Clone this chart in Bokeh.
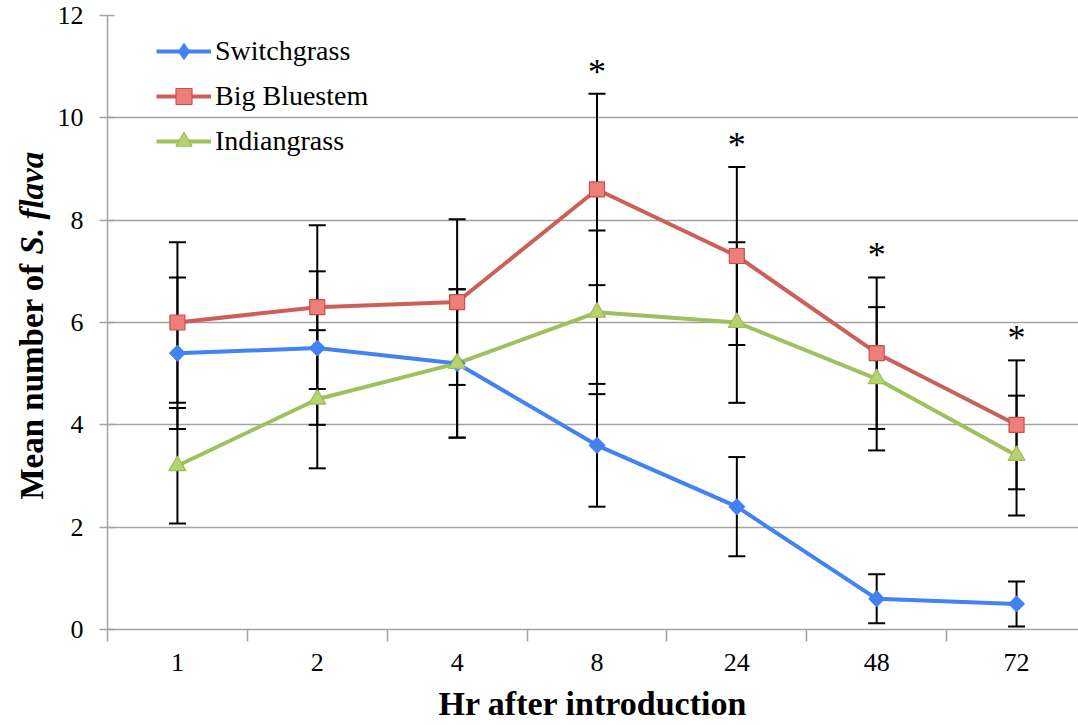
import math
import numpy as np
from bokeh.plotting import figure
from bokeh.layouts import row
from bokeh.models import FixedTicker, Legend, LegendItem, Range1d
from bokeh.core.properties import value
from bokeh.embed import file_html
from bokeh.resources import INLINE

# ---- data ----
hours = ["1", "2", "4", "8", "24", "48", "72"]
switch_mean = [5.4, 5.5, 5.2, 3.6, 2.4, 0.6, 0.5]
switch_err = [1.48, 1.5, 1.45, 1.2, 0.97, 0.48, 0.44]
bluestem_mean = [6.0, 6.3, 6.4, 8.6, 7.3, 5.4, 4.0]
bluestem_err = [1.57, 1.6, 1.62, 1.87, 1.74, 1.48, 1.26]
indian_mean = [3.2, 4.5, 5.2, 6.2, 6.0, 4.9, 3.4]
indian_err = [1.13, 1.35, 1.45, 1.6, 1.57, 1.4, 1.17]
significant = [False, False, False, True, True, True, True]
y_ticks = [0, 2, 4, 6, 8, 10, 12]

x = list(range(len(hours)))

FONT = "Liberation Serif"
GRID = "#A3A3A3"
H = 725
TOP, BOTTOM = 15, 96
TITLE_W = 54

y_range = Range1d(0, 12)

p = figure(width=1078 - TITLE_W, height=H, output_backend="svg", toolbar_location=None,
           x_range=Range1d(-0.5, 6.443), y_range=y_range,
           min_border_left=52, min_border_right=0, min_border_top=TOP, min_border_bottom=BOTTOM)
p.outline_line_color = None

# axes
p.xaxis.ticker = FixedTicker(ticks=x, minor_ticks=[i - 0.5 for i in range(len(hours) + 1)])
p.xaxis.major_label_overrides = {i: h for i, h in zip(x, hours)}
p.xaxis.major_tick_out = 0
p.xaxis.major_tick_in = 0
p.xaxis.minor_tick_out = 12
p.xaxis.minor_tick_in = 0
p.xaxis.minor_tick_line_color = GRID
p.xaxis.minor_tick_line_width = 1.5
p.xaxis.axis_line_color = GRID
p.xaxis.axis_line_width = 1.5
p.xaxis.major_label_text_font = FONT
p.xaxis.major_label_text_font_size = "26px"
p.xaxis.major_label_text_color = "black"
p.xaxis.major_label_standoff = 12
p.xaxis.axis_label = "Hr after introduction"
p.xaxis.axis_label_text_font = FONT
p.xaxis.axis_label_text_font_style = "bold"
p.xaxis.axis_label_text_font_size = "34px"
p.xaxis.axis_label_text_color = "black"
p.xaxis.axis_label_standoff = 11

p.yaxis.ticker = FixedTicker(ticks=y_ticks)
p.yaxis.major_tick_out = 8
p.yaxis.major_tick_in = 7
p.yaxis.minor_tick_line_color = None
p.yaxis.major_tick_line_color = GRID
p.yaxis.major_tick_line_width = 1.5
p.yaxis.axis_line_color = GRID
p.yaxis.axis_line_width = 1.5
p.yaxis.major_label_text_font = FONT
p.yaxis.major_label_text_font_size = "26px"
p.yaxis.major_label_text_color = "black"
p.yaxis.major_label_standoff = 16

p.xgrid.grid_line_color = None
p.ygrid.ticker = FixedTicker(ticks=y_ticks)
p.ygrid.grid_line_color = GRID
p.ygrid.grid_line_width = 1.5

series = [
    # name, mean, err, line colour, marker, fill, outline, size, angle, legend marker
    ("Switchgrass", switch_mean, switch_err, "#4282F2", "square", "#4282F2", "#4282F2", 11, math.pi / 4, "diamond"),
    ("Big Bluestem", bluestem_mean, bluestem_err, "#CD5F59", "square", "#EE7E79", "#C8504C", 15, 0, "square"),
    ("Indiangrass", indian_mean, indian_err, "#9FC05D", "triangle", "#B7D36E", "#9FBC55", 17, 0, "triangle"),
]

# error bars first
for name, mean, err, *_ in series:
    lo = [m - e for m, e in zip(mean, err)]
    hi = [m + e for m, e in zip(mean, err)]
    p.segment(x0=x, y0=lo, x1=x, y1=hi, line_color="black", line_width=2)
    p.scatter(x=x + x, y=lo + hi, marker="dash", size=17, line_color="black", line_width=2)

lines = []
for name, mean, err, lc, *_ in series:
    lines.append(p.line(x=x, y=mean, line_color=lc, line_width=4, line_join="round"))

legend_items = []
for (name, mean, err, lc, mk, fc, oc, sz, ang, lmk), r1 in zip(series, lines):
    p.scatter(x=x, y=mean, marker=mk, size=sz, angle=ang, fill_color=fc,
              line_color=oc, line_width=1.2)
    # swatch-only marker for the legend (NaN position, never drawn in the plot)
    r_leg = p.scatter(x=np.array([np.nan]), y=np.array([np.nan]), marker=lmk,
                      fill_color=fc, line_color=oc, line_width=1.2)
    legend_items.append(LegendItem(label=name, renderers=[r1, r_leg]))

legend = Legend(items=legend_items, location=(49, 468), orientation="vertical",
                label_text_font=FONT, label_text_font_size="28px", label_text_color="black",
                glyph_width=55, glyph_height=40, label_height=40, spacing=5,
                padding=0, margin=0, label_standoff=4,
                background_fill_alpha=0, border_line_alpha=0)
p.add_layout(legend)

# significance asterisks
sx = [i for i, s in zip(x, significant) if s]
sy = [bluestem_mean[i] + bluestem_err[i] for i in sx]
p.text(x=sx, y=sy, text=["*"] * len(sx), text_font=value(FONT), text_font_size="36px",
       text_align="center", text_baseline="middle", y_offset=-22, text_color="black")

# ---- y-axis title panel (mixed upright / italic) ----
t = figure(width=TITLE_W, height=H, output_backend="svg", toolbar_location=None,
           x_range=Range1d(0, 1), y_range=y_range, x_axis_type=None, y_axis_type=None,
           min_border_left=0, min_border_right=0, min_border_top=TOP, min_border_bottom=BOTTOM)
t.outline_line_color = None
t.grid.visible = False
tx = 31 / TITLE_W
t.text(x=[tx], y=[2.54], text=["Mean number of"], angle=math.pi / 2,
       text_font=value(FONT), text_font_style="bold", text_font_size="33px",
       text_align="left", text_baseline="middle", text_color="black")
t.text(x=[tx], y=[7.33], text=["S. flava"], angle=math.pi / 2,
       text_font=value(FONT), text_font_style="bold italic", text_font_size="33px",
       text_align="left", text_baseline="middle", text_color="black")

layout = row(t, p, spacing=0)
open("out.html", "w").write(file_html(layout, INLINE))
